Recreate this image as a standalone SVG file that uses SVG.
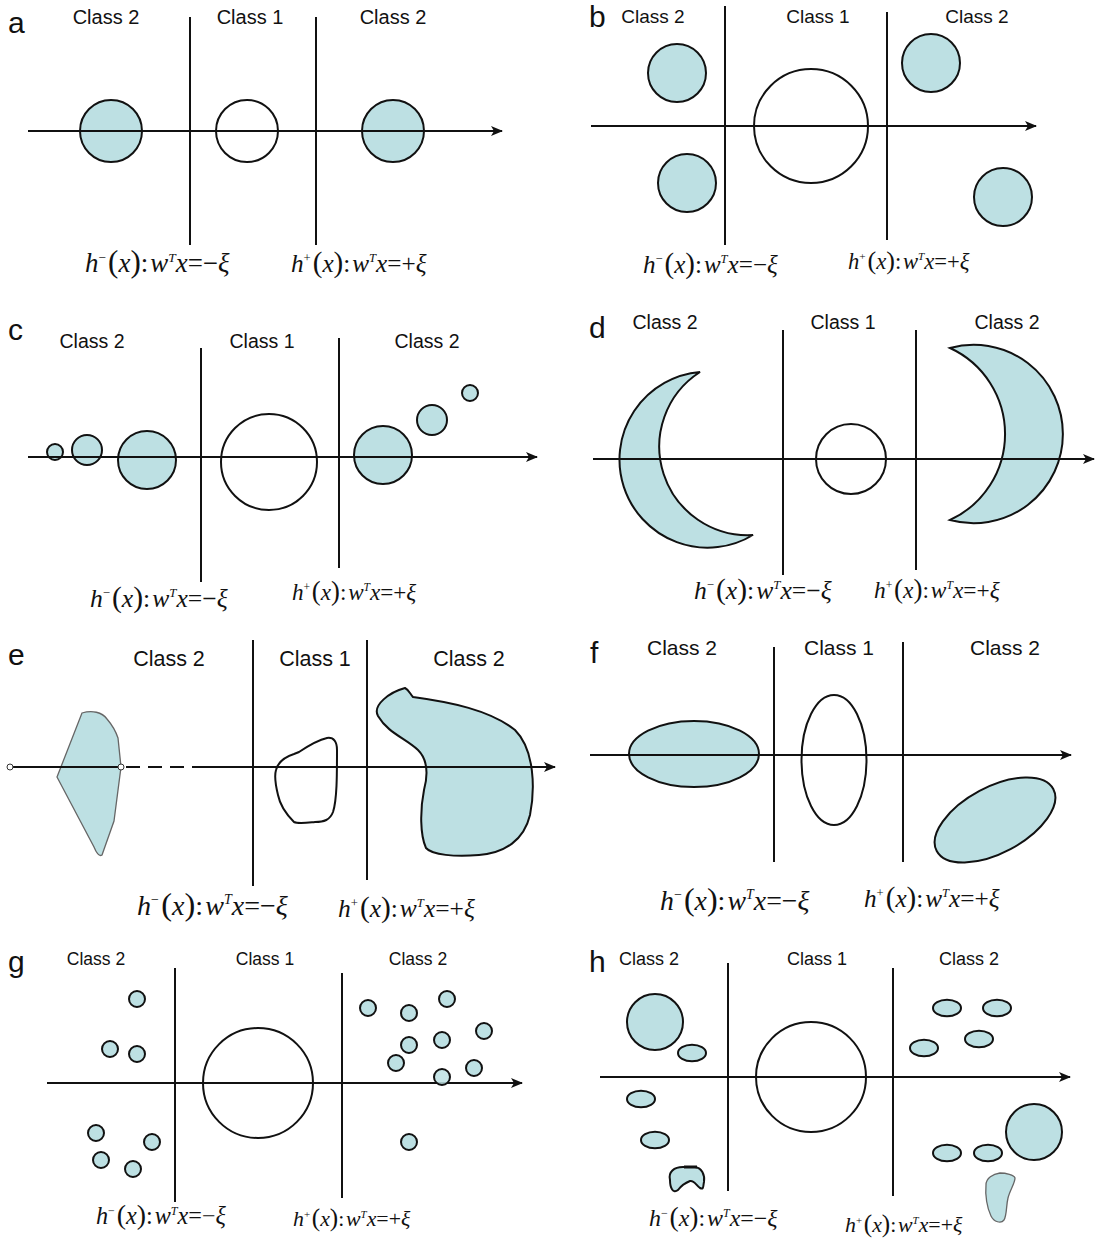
<svg xmlns="http://www.w3.org/2000/svg" width="1096" height="1241" viewBox="0 0 1096 1241">
<style>
.bg{fill:#ffffff}
.ln{stroke:#111;stroke-width:2;fill:none}
.ax{stroke:#111;stroke-width:2;fill:none;marker-end:url(#arr)}
.c2{fill:#bde0e3;stroke:#111;stroke-width:2}
.c2g{fill:#bde0e3;stroke:#666;stroke-width:1.3}
.c1{fill:none;stroke:#111;stroke-width:2}
.lb{font-family:"Liberation Sans",Arial,sans-serif;fill:#111;text-anchor:middle}
.pl{font-family:"Liberation Sans",Arial,sans-serif;font-size:30px;fill:#111}
.fm{font-family:"Liberation Serif","Times New Roman",serif;font-size:26px;fill:#111}
.i{font-style:italic}
.sp{font-size:13px}
.pa{font-size:30px}
</style>
<defs>
<marker id="arr" viewBox="0 0 12 10" refX="11" refY="5" markerWidth="12" markerHeight="10" markerUnits="userSpaceOnUse" orient="auto">
<path d="M0,0 L12,5 L0,10 L3,5 Z" fill="#111"/>
</marker>
</defs>
<rect class="bg" x="0" y="0" width="1096" height="1241"/>

<!-- Panel a -->
<g id="panel-a">
<text class="pl" x="8" y="33">a</text>
<g style="font-size:20px"><text class="lb" x="106" y="24">Class 2</text><text class="lb" x="250" y="24">Class 1</text><text class="lb" x="393" y="24">Class 2</text></g>
<g id="a-shapes">
<circle class="c2" cx="111" cy="131" r="31"/>
<circle class="c1" cx="247" cy="131" r="31"/>
<circle class="c2" cx="393" cy="131" r="31"/>
</g>
<g id="a-lines">
<line class="ln" x1="190" y1="17" x2="190" y2="245"/>
<line class="ln" x1="316" y1="17" x2="316" y2="245"/>
<line class="ax" x1="28" y1="131" x2="502" y2="131"/>
</g>
<text class="fm" transform="translate(85,272) scale(1.035)"><tspan class="i">h</tspan><tspan class="sp" dy="-10">−</tspan><tspan class="pa" dy="10" dx="2">(</tspan><tspan class="i">x</tspan><tspan class="pa">)</tspan><tspan>:</tspan><tspan class="i" dx="2">w</tspan><tspan class="sp i" dy="-10">T</tspan><tspan class="i" dy="10">x</tspan><tspan>=−</tspan><tspan class="i">ξ</tspan></text>
<text class="fm" transform="translate(291,272) scale(0.97)"><tspan class="i">h</tspan><tspan class="sp" dy="-10">+</tspan><tspan class="pa" dy="10" dx="2">(</tspan><tspan class="i">x</tspan><tspan class="pa">)</tspan><tspan>:</tspan><tspan class="i" dx="2">w</tspan><tspan class="sp i" dy="-10">T</tspan><tspan class="i" dy="10">x</tspan><tspan>=+</tspan><tspan class="i">ξ</tspan></text>
</g>

<!-- Panel b -->
<g id="panel-b">
<text class="pl" x="589" y="27">b</text>
<g style="font-size:19px"><text class="lb" x="653" y="23">Class 2</text><text class="lb" x="818" y="23">Class 1</text><text class="lb" x="977" y="23">Class 2</text></g>
<g id="b-shapes">
<circle class="c2" cx="677" cy="73" r="29"/>
<circle class="c2" cx="687" cy="183" r="29"/>
<circle class="c1" cx="811" cy="126" r="57"/>
<circle class="c2" cx="931" cy="63" r="29"/>
<circle class="c2" cx="1003" cy="197" r="29"/>
</g>
<g id="b-lines">
<line class="ln" x1="725" y1="6" x2="725" y2="245"/>
<line class="ln" x1="887" y1="12" x2="887" y2="240"/>
<line class="ax" x1="591" y1="126" x2="1036" y2="126"/>
</g>
<text class="fm" transform="translate(643,273) scale(0.965)"><tspan class="i">h</tspan><tspan class="sp" dy="-10">−</tspan><tspan class="pa" dy="10" dx="2">(</tspan><tspan class="i">x</tspan><tspan class="pa">)</tspan><tspan>:</tspan><tspan class="i" dx="2">w</tspan><tspan class="sp i" dy="-10">T</tspan><tspan class="i" dy="10">x</tspan><tspan>=−</tspan><tspan class="i">ξ</tspan></text>
<text class="fm" transform="translate(848,269) scale(0.87)"><tspan class="i">h</tspan><tspan class="sp" dy="-10">+</tspan><tspan class="pa" dy="10" dx="2">(</tspan><tspan class="i">x</tspan><tspan class="pa">)</tspan><tspan>:</tspan><tspan class="i" dx="2">w</tspan><tspan class="sp i" dy="-10">T</tspan><tspan class="i" dy="10">x</tspan><tspan>=+</tspan><tspan class="i">ξ</tspan></text>
</g>

<!-- Panel c -->
<g id="panel-c">
<text class="pl" x="8" y="340">c</text>
<g style="font-size:19.5px"><text class="lb" x="92" y="348">Class 2</text><text class="lb" x="262" y="348">Class 1</text><text class="lb" x="427" y="348">Class 2</text></g>
<g id="c-shapes">
<circle class="c2" cx="55" cy="452" r="8"/>
<circle class="c2" cx="87" cy="450" r="15"/>
<circle class="c2" cx="147" cy="460" r="29"/>
<circle class="c1" cx="269" cy="462" r="48"/>
<circle class="c2" cx="383" cy="455" r="29"/>
<circle class="c2" cx="432" cy="420" r="15"/>
<circle class="c2" cx="470" cy="393" r="8"/>
</g>
<g id="c-lines">
<line class="ln" x1="201" y1="348" x2="201" y2="582"/>
<line class="ln" x1="339" y1="338" x2="339" y2="568"/>
<line class="ax" x1="28" y1="457" x2="537" y2="457"/>
</g>
<text class="fm" transform="translate(90,607) scale(0.985)"><tspan class="i">h</tspan><tspan class="sp" dy="-10">−</tspan><tspan class="pa" dy="10" dx="2">(</tspan><tspan class="i">x</tspan><tspan class="pa">)</tspan><tspan>:</tspan><tspan class="i" dx="2">w</tspan><tspan class="sp i" dy="-10">T</tspan><tspan class="i" dy="10">x</tspan><tspan>=−</tspan><tspan class="i">ξ</tspan></text>
<text class="fm" transform="translate(292,600) scale(0.89)"><tspan class="i">h</tspan><tspan class="sp" dy="-10">+</tspan><tspan class="pa" dy="10" dx="2">(</tspan><tspan class="i">x</tspan><tspan class="pa">)</tspan><tspan>:</tspan><tspan class="i" dx="2">w</tspan><tspan class="sp i" dy="-10">T</tspan><tspan class="i" dy="10">x</tspan><tspan>=+</tspan><tspan class="i">ξ</tspan></text>
</g>

<!-- Panel d -->
<g id="panel-d">
<text class="pl" x="589" y="338">d</text>
<g style="font-size:19.5px"><text class="lb" x="665" y="329">Class 2</text><text class="lb" x="843" y="329">Class 1</text><text class="lb" x="1007" y="329">Class 2</text></g>
<g id="d-shapes">
<path class="c2" d="M700,372 A88,88 0 1,0 753,535 A88.6,88.6 0 0,1 700,372 Z"/>
<circle class="c1" cx="851" cy="459" r="35"/>
<path class="c2" d="M950,348 A89.2,89.2 0 1,1 950,520 A94.7,94.7 0 0,0 950,348 Z"/>
</g>
<g id="d-lines">
<line class="ln" x1="783" y1="330" x2="783" y2="575"/>
<line class="ln" x1="916" y1="330" x2="916" y2="570"/>
<line class="ax" x1="593" y1="459" x2="1094" y2="459"/>
</g>
<text class="fm" transform="translate(694,599) scale(0.985)"><tspan class="i">h</tspan><tspan class="sp" dy="-10">−</tspan><tspan class="pa" dy="10" dx="2">(</tspan><tspan class="i">x</tspan><tspan class="pa">)</tspan><tspan>:</tspan><tspan class="i" dx="2">w</tspan><tspan class="sp i" dy="-10">T</tspan><tspan class="i" dy="10">x</tspan><tspan>=−</tspan><tspan class="i">ξ</tspan></text>
<text class="fm" transform="translate(874,598) scale(0.9)"><tspan class="i">h</tspan><tspan class="sp" dy="-10">+</tspan><tspan class="pa" dy="10" dx="2">(</tspan><tspan class="i">x</tspan><tspan class="pa">)</tspan><tspan>:</tspan><tspan class="i" dx="2">w</tspan><tspan class="sp i" dy="-10">T</tspan><tspan class="i" dy="10">x</tspan><tspan>=+</tspan><tspan class="i">ξ</tspan></text>
</g>

<!-- Panel e -->
<g id="panel-e">
<text class="pl" x="8" y="665">e</text>
<g style="font-size:21.5px"><text class="lb" x="169" y="666">Class 2</text><text class="lb" x="315" y="666">Class 1</text><text class="lb" x="469" y="666">Class 2</text></g>
<g id="e-shapes">
<path class="c2g" d="M57,777 L82,713 C92,710 102,712 107,719 C113,726 117,735 118,738 L121,767 L114,821 L102,855 C99,857 96,852 94,847 Z"/>
<path class="c1" d="M276,770 C278,762 285,757 294,754 L299,752 C308,746 318,740 327,738 C334,737 337,742 337,750 C337,775 337,800 333,812 C330,820 324,822 315,822 C305,823 298,824 294,822 C287,815 280,805 278,795 C276,787 274,777 276,770 Z"/>
<path class="c2" d="M378,716 C372,705 390,692 405,688 C409,690 410,694 413,697 C450,702 490,710 515,730 C535,750 535,790 530,815 C524,840 505,853 479,855 C455,857 432,855 426,848 C420,835 420,810 424,790 C428,775 428,760 418,750 C405,738 388,733 378,716 Z"/>
</g>
<g id="e-lines">
<line class="ln" x1="253" y1="640" x2="253" y2="886"/>
<line class="ln" x1="367" y1="640" x2="367" y2="880"/>
<line class="ln" x1="10" y1="767" x2="121" y2="767"/>
<line class="ln" x1="126" y1="767" x2="200" y2="767" stroke-dasharray="14 8"/>
<line class="ax" x1="200" y1="767" x2="555" y2="767"/>
<circle cx="10" cy="767" r="3" fill="#fff" stroke="#333" stroke-width="1"/>
<circle cx="121" cy="767" r="3" fill="#fff" stroke="#333" stroke-width="1"/>
</g>
<text class="fm" transform="translate(137,915) scale(1.08)"><tspan class="i">h</tspan><tspan class="sp" dy="-10">−</tspan><tspan class="pa" dy="10" dx="2">(</tspan><tspan class="i">x</tspan><tspan class="pa">)</tspan><tspan>:</tspan><tspan class="i" dx="2">w</tspan><tspan class="sp i" dy="-10">T</tspan><tspan class="i" dy="10">x</tspan><tspan>=−</tspan><tspan class="i">ξ</tspan></text>
<text class="fm" transform="translate(338,917) scale(0.98)"><tspan class="i">h</tspan><tspan class="sp" dy="-10">+</tspan><tspan class="pa" dy="10" dx="2">(</tspan><tspan class="i">x</tspan><tspan class="pa">)</tspan><tspan>:</tspan><tspan class="i" dx="2">w</tspan><tspan class="sp i" dy="-10">T</tspan><tspan class="i" dy="10">x</tspan><tspan>=+</tspan><tspan class="i">ξ</tspan></text>
</g>

<!-- Panel f -->
<g id="panel-f">
<text class="pl" x="590" y="663">f</text>
<g style="font-size:21px"><text class="lb" x="682" y="655">Class 2</text><text class="lb" x="839" y="655">Class 1</text><text class="lb" x="1005" y="655">Class 2</text></g>
<g id="f-shapes">
<ellipse class="c2" cx="694" cy="754" rx="65" ry="33"/>
<ellipse class="c1" cx="834" cy="760" rx="32.5" ry="65"/>
<ellipse class="c2" cx="995" cy="820" rx="66" ry="33" transform="rotate(-28 995 820)"/>
</g>
<g id="f-lines">
<line class="ln" x1="774" y1="647" x2="774" y2="862"/>
<line class="ln" x1="903" y1="642" x2="903" y2="862"/>
<line class="ax" x1="590" y1="755" x2="1071" y2="755"/>
</g>
<text class="fm" transform="translate(660,910) scale(1.07)"><tspan class="i">h</tspan><tspan class="sp" dy="-10">−</tspan><tspan class="pa" dy="10" dx="2">(</tspan><tspan class="i">x</tspan><tspan class="pa">)</tspan><tspan>:</tspan><tspan class="i" dx="2">w</tspan><tspan class="sp i" dy="-10">T</tspan><tspan class="i" dy="10">x</tspan><tspan>=−</tspan><tspan class="i">ξ</tspan></text>
<text class="fm" transform="translate(864,907) scale(0.97)"><tspan class="i">h</tspan><tspan class="sp" dy="-10">+</tspan><tspan class="pa" dy="10" dx="2">(</tspan><tspan class="i">x</tspan><tspan class="pa">)</tspan><tspan>:</tspan><tspan class="i" dx="2">w</tspan><tspan class="sp i" dy="-10">T</tspan><tspan class="i" dy="10">x</tspan><tspan>=+</tspan><tspan class="i">ξ</tspan></text>
</g>

<!-- Panel g -->
<g id="panel-g">
<text class="pl" x="8" y="972">g</text>
<g style="font-size:17.5px"><text class="lb" x="96" y="965">Class 2</text><text class="lb" x="265" y="965">Class 1</text><text class="lb" x="418" y="965">Class 2</text></g>
<g id="g-shapes">
<circle class="c1" cx="258" cy="1083" r="55"/>
<circle class="c2" cx="137" cy="999" r="8"/>
<circle class="c2" cx="110" cy="1049" r="8"/>
<circle class="c2" cx="137" cy="1054" r="8"/>
<circle class="c2" cx="96" cy="1133" r="8"/>
<circle class="c2" cx="152" cy="1142" r="8"/>
<circle class="c2" cx="101" cy="1160" r="8"/>
<circle class="c2" cx="133" cy="1169" r="8"/>
<circle class="c2" cx="368" cy="1008" r="8"/>
<circle class="c2" cx="409" cy="1013" r="8"/>
<circle class="c2" cx="447" cy="999" r="8"/>
<circle class="c2" cx="484" cy="1031" r="8"/>
<circle class="c2" cx="409" cy="1045" r="8"/>
<circle class="c2" cx="442" cy="1040" r="8"/>
<circle class="c2" cx="396" cy="1063" r="8"/>
<circle class="c2" cx="474" cy="1068" r="8"/>
<circle class="c2" cx="409" cy="1142" r="8"/>
</g>
<g id="g-lines">
<line class="ln" x1="175" y1="968" x2="175" y2="1202"/>
<line class="ln" x1="342" y1="973" x2="342" y2="1198"/>
<line class="ax" x1="47" y1="1083" x2="522" y2="1083"/>
</g>
<circle class="c2" cx="442" cy="1077" r="8" fill-opacity="0.85"/>
<text class="fm" transform="translate(96,1224) scale(0.93)"><tspan class="i">h</tspan><tspan class="sp" dy="-10">−</tspan><tspan class="pa" dy="10" dx="2">(</tspan><tspan class="i">x</tspan><tspan class="pa">)</tspan><tspan>:</tspan><tspan class="i" dx="2">w</tspan><tspan class="sp i" dy="-10">T</tspan><tspan class="i" dy="10">x</tspan><tspan>=−</tspan><tspan class="i">ξ</tspan></text>
<text class="fm" transform="translate(293,1226) scale(0.84)"><tspan class="i">h</tspan><tspan class="sp" dy="-10">+</tspan><tspan class="pa" dy="10" dx="2">(</tspan><tspan class="i">x</tspan><tspan class="pa">)</tspan><tspan>:</tspan><tspan class="i" dx="2">w</tspan><tspan class="sp i" dy="-10">T</tspan><tspan class="i" dy="10">x</tspan><tspan>=+</tspan><tspan class="i">ξ</tspan></text>
</g>

<!-- Panel h -->
<g id="panel-h">
<text class="pl" x="589" y="972">h</text>
<g style="font-size:18px"><text class="lb" x="649" y="965">Class 2</text><text class="lb" x="817" y="965">Class 1</text><text class="lb" x="969" y="965">Class 2</text></g>
<g id="h-shapes">
<circle class="c1" cx="811" cy="1077" r="55"/>
<circle class="c2" cx="655" cy="1022" r="28"/>
<circle class="c2" cx="1034" cy="1132" r="28"/>
<ellipse class="c2" cx="692" cy="1053" rx="14" ry="8.3"/>
<ellipse class="c2" cx="641" cy="1099" rx="14" ry="8.3"/>
<ellipse class="c2" cx="655" cy="1140" rx="14" ry="8.3"/>
<ellipse class="c2" cx="947" cy="1008" rx="14" ry="8.3"/>
<ellipse class="c2" cx="997" cy="1008" rx="14" ry="8.3"/>
<ellipse class="c2" cx="979" cy="1039" rx="14" ry="8.3"/>
<ellipse class="c2" cx="924" cy="1048" rx="14" ry="8.3"/>
<ellipse class="c2" cx="947" cy="1153" rx="14" ry="8.3"/>
<ellipse class="c2" cx="988" cy="1153" rx="14" ry="8.3"/>
<path class="c2" d="M670,1180 C668,1172 674,1167 683,1167 L695,1167 C702,1168 705,1175 704,1182 C703,1186 704,1190 700,1188 C696,1185 694,1180 690,1181 C685,1183 681,1186 678,1190 C673,1194 670,1188 670,1180 Z"/>
<line x1="684" y1="1167" x2="697" y2="1167" stroke="#111" stroke-width="3"/>
<path class="c2g" d="M986,1185 C986,1178 993,1174 1000,1173 C1006,1173 1014,1175 1015,1178 C1015,1183 1010,1190 1008,1198 C1006,1206 1007,1215 1004,1220 C1001,1224 994,1222 991,1216 C987,1208 985,1195 986,1185 Z"/>
</g>
<g id="h-lines">
<line class="ln" x1="728" y1="963" x2="728" y2="1191"/>
<line class="ln" x1="893" y1="968" x2="893" y2="1196"/>
<line class="ax" x1="600" y1="1077" x2="1070" y2="1077"/>
</g>
<text class="fm" transform="translate(649,1226) scale(0.92)"><tspan class="i">h</tspan><tspan class="sp" dy="-10">−</tspan><tspan class="pa" dy="10" dx="2">(</tspan><tspan class="i">x</tspan><tspan class="pa">)</tspan><tspan>:</tspan><tspan class="i" dx="2">w</tspan><tspan class="sp i" dy="-10">T</tspan><tspan class="i" dy="10">x</tspan><tspan>=−</tspan><tspan class="i">ξ</tspan></text>
<text class="fm" transform="translate(845,1232) scale(0.84)"><tspan class="i">h</tspan><tspan class="sp" dy="-10">+</tspan><tspan class="pa" dy="10" dx="2">(</tspan><tspan class="i">x</tspan><tspan class="pa">)</tspan><tspan>:</tspan><tspan class="i" dx="2">w</tspan><tspan class="sp i" dy="-10">T</tspan><tspan class="i" dy="10">x</tspan><tspan>=+</tspan><tspan class="i">ξ</tspan></text>
</g>
</svg>
